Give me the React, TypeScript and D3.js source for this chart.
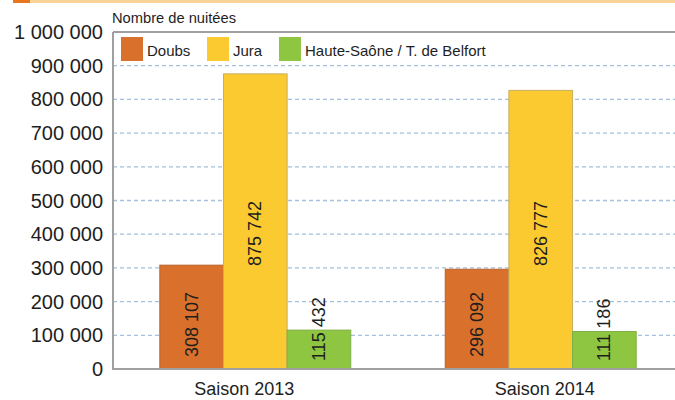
import React from 'react';
import * as d3 from 'd3';

// canvas
const width = 675;
const height = 400;

// data
const seasons = ['Saison 2013', 'Saison 2014'];
const regions = ['Doubs', 'Jura', 'Haute-Saône / T. de Belfort'];
const doubs = [308107, 296092];
const jura = [875742, 826777];
const hauteSaone = [115432, 111186];
const yTicks = [0, 100000, 200000, 300000, 400000, 500000, 600000, 700000, 800000, 900000, 1000000];

const series = [doubs, jura, hauteSaone];

// styles
const fillColors = ['#d9702b', '#fbca30', '#8ec641'];
const strokeColors = ['#b8622e', '#c8ae5c', '#7fae48'];
const labelLift = [12, 103, 8]; // where the value label starts, px above the axis
const seasonShift = [-11, 4]; // category labels are not quite centred in the original
const legendX = [121, 207, 279];
const fontFamily = '"Liberation Sans", Arial, Helvetica, sans-serif';
const frameColor = '#a0a0a0';
const gridColor = '#a3c0dc';

// plot area
const left = 113;
const top = 32;
const bottom = 369;

const fr = d3.formatLocale({
  decimal: ',',
  thousands: ' ',
  grouping: [3],
  currency: ['', ' €'],
});
const fmt = fr.format(',d');

const y = d3.scaleLinear().domain([0, 1000000]).range([bottom, top]);

const x0 = d3
  .scaleBand()
  .domain(seasons)
  .range([left, 683])
  .paddingInner(0.331)
  .paddingOuter(0.164);

const x1 = d3
  .scaleBand()
  .domain(regions)
  .range([0, x0.bandwidth()]);

const App = () => (
  <svg
    width={width}
    height={height}
    style={{ position: 'absolute', left: 0, top: 0 }}
    fontFamily={fontFamily}
  >
    <rect width={width} height={height} fill="white" />

    {/* header strip */}
    <rect x={30} y={0} width={width - 30} height={3} fill="#fad396" />
    <rect x={13} y={0} width={17} height={3} fill="#e8761e" />

    {/* gridlines */}
    {yTicks
      .filter((t) => t > 0 && t < 1000000)
      .map((t) => (
        <line
          key={t}
          x1={left}
          x2={width}
          y1={y(t)}
          y2={y(t)}
          stroke={gridColor}
          strokeWidth={1.3}
          strokeDasharray="4 3"
        />
      ))}

    {/* bars */}
    {seasons.map((s, i) => (
      <g key={s} transform={`translate(${x0(s)},0)`}>
        {regions.map((r, j) => (
          <rect
            key={r}
            x={x1(r)}
            y={y(series[j][i])}
            width={x1.bandwidth()}
            height={y(0) - y(series[j][i])}
            fill={fillColors[j]}
            stroke={strokeColors[j]}
            strokeWidth={1}
          />
        ))}
        {regions.map((r, j) => {
          const cx = (x1(r) as number) + x1.bandwidth() / 2;
          const cy = bottom - labelLift[j];
          return (
            <text
              key={r}
              transform={`translate(${cx},${cy}) rotate(-90)`}
              dominantBaseline="central"
              fontSize={18}
              fill="#1e1e1e"
            >
              {fmt(series[j][i])}
            </text>
          );
        })}
      </g>
    ))}

    {/* frame */}
    <line x1={left} x2={width} y1={top} y2={top} stroke={frameColor} strokeWidth={2} />
    <line x1={left} x2={left} y1={top} y2={bottom} stroke={frameColor} strokeWidth={2} />
    <line x1={left - 1} x2={width} y1={bottom} y2={bottom} stroke={frameColor} strokeWidth={2} />

    {/* y tick labels */}
    {yTicks.map((t) => (
      <text
        key={t}
        x={103}
        y={y(t)}
        textAnchor="end"
        dominantBaseline="central"
        fontSize={20}
        fill="#1e1e1e"
      >
        {fmt(t)}
      </text>
    ))}

    {/* unit */}
    <text x={112} y={23} fontSize={15} fill="#1e1e1e" textLength={124} lengthAdjust="spacingAndGlyphs">
      Nombre de nuitées
    </text>

    {/* category labels */}
    {seasons.map((s, i) => (
      <text
        key={s}
        x={(x0(s) as number) + x0.bandwidth() / 2 + seasonShift[i]}
        y={395}
        textAnchor="middle"
        fontSize={18}
        fill="#1e1e1e"
      >
        {s}
      </text>
    ))}

    {/* legend */}
    {regions.map((r, j) => (
      <g key={r} transform={`translate(${legendX[j]},37)`}>
        <rect width={22} height={24} fill={fillColors[j]} />
        <text x={26} y={19} fontSize={15} fill="#1e1e1e">
          {r}
        </text>
      </g>
    ))}
  </svg>
);

export default App;
